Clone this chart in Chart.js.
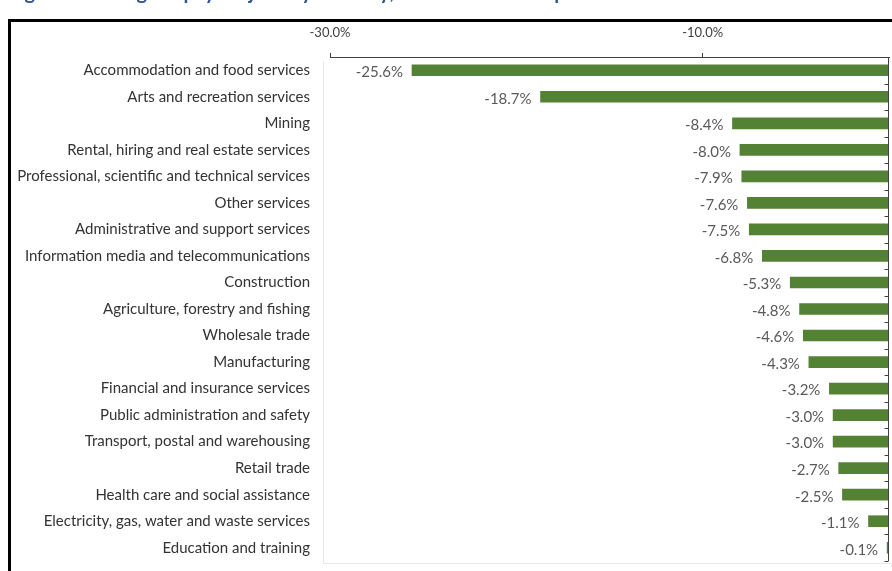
<!DOCTYPE html>
<html>
<head>
<meta charset="utf-8">
<script src="https://cdn.jsdelivr.net/npm/chart.js@4.4.1/dist/chart.umd.min.js"></script>
<style>
  html, body { margin: 0; padding: 0; background: #fff; }
  #wrap { width: 892px; height: 571px; position: relative; }
</style>
</head>
<body>
<div id="wrap"><canvas id="jobsChart" width="892" height="571"></canvas></div>
<script>
// Change in payroll jobs by industry (per cent)
var industries = [
  'Accommodation and food services',
  'Arts and recreation services',
  'Mining',
  'Rental, hiring and real estate services',
  'Professional, scientific and technical services',
  'Other services',
  'Administrative and support services',
  'Information media and telecommunications',
  'Construction',
  'Agriculture, forestry and fishing',
  'Wholesale trade',
  'Manufacturing',
  'Financial and insurance services',
  'Public administration and safety',
  'Transport, postal and warehousing',
  'Retail trade',
  'Health care and social assistance',
  'Electricity, gas, water and waste services',
  'Education and training'
];
var jobChange = [-25.6, -18.7, -8.4, -8.0, -7.9, -7.6, -7.5, -6.8, -5.3, -4.8, -4.6, -4.3, -3.2, -3.0, -3.0, -2.7, -2.5, -1.1, -0.1];
var axisTicks = [-30, -10];

var titleText = 'Figure 2: Change in payroll jobs by industry, 14 March to 18 April';
var fontFamily = 'Lato, "Open Sans", sans-serif';

function pct(v) { return v.toFixed(1) + '%'; }

// frame, clipped heading and faint plot border drawn behind the chart
var framePlugin = {
  id: 'frame',
  beforeDraw: function (chart) {
    var ctx = chart.ctx;
    var a = chart.chartArea;
    ctx.save();
    ctx.fillStyle = '#fff';
    ctx.fillRect(0, 0, chart.width, chart.height);
    // heading sits above the top edge, only descenders show
    ctx.fillStyle = '#2f5597';
    ctx.font = 'bold 20px ' + fontFamily;
    ctx.textBaseline = 'alphabetic';
    ctx.fillText(titleText, 8, -1);
    // outer black frame
    ctx.strokeStyle = '#000';
    ctx.lineWidth = 3;
    ctx.strokeRect(9.5, 20.5, chart.width + 20, chart.height + 20);
    // light plot-area border
    ctx.strokeStyle = '#e8e8e8';
    ctx.lineWidth = 1;
    ctx.beginPath();
    ctx.moveTo(a.left - 6.5, a.top + 4);
    ctx.lineTo(a.left - 6.5, a.bottom + 2.5);
    ctx.lineTo(chart.width, a.bottom + 2.5);
    ctx.stroke();
    ctx.restore();
  }
};

// zero line with category ticks, plus value labels beside the bar ends
var zeroPlugin = {
  id: 'zeroAxis',
  afterDatasetsDraw: function (chart) {
    var ctx = chart.ctx;
    var x = chart.scales.x;
    var y = chart.scales.y;
    var zx = Math.round(x.getPixelForValue(0)) - 0.5;
    ctx.save();
    ctx.strokeStyle = '#404040';
    ctx.lineWidth = 1;
    ctx.beginPath();
    ctx.moveTo(zx, y.top);
    ctx.lineTo(zx, y.bottom);
    var band = (y.bottom - y.top) / industries.length;
    for (var k = 1; k <= industries.length; k++) {
      var ty = Math.round(y.top + k * band) + 0.5;
      ctx.moveTo(zx, ty);
      ctx.lineTo(zx - 4, ty);
    }
    ctx.stroke();

    var meta = chart.getDatasetMeta(0);
    ctx.fillStyle = '#595959';
    ctx.font = '15px ' + fontFamily;
    ctx.textAlign = 'right';
    ctx.textBaseline = 'middle';
    meta.data.forEach(function (bar, i) {
      ctx.fillText(pct(jobChange[i]), bar.x - 9, bar.y + 2);
    });
    ctx.restore();
  }
};

new Chart(document.getElementById('jobsChart'), {
  type: 'bar',
  data: {
    labels: industries,
    datasets: [{
      data: jobChange,
      backgroundColor: '#548235',
      borderWidth: 0,
      barThickness: 11
    }]
  },
  options: {
    indexAxis: 'y',
    responsive: false,
    animation: false,
    layout: { padding: { top: 0, right: 3, bottom: 10, left: 0 } },
    plugins: {
      legend: { display: false },
      tooltip: { enabled: false }
    },
    scales: {
      x: {
        position: 'top',
        min: -30,
        max: 0,
        afterBuildTicks: function (scale) {
          scale.ticks = axisTicks.map(function (v) { return { value: v }; });
        },
        afterFit: function (scale) { scale.height = 57; },
        ticks: {
          color: '#404040',
          font: { family: fontFamily, size: 13 },
          padding: 12,
          callback: function (v) { return pct(v); }
        },
        grid: { drawOnChartArea: false, drawTicks: true, tickLength: 4, color: '#404040' },
        border: { display: true, color: '#404040', width: 1 }
      },
      y: {
        afterFit: function (scale) {
          scale.width = 330;
          // label padding should not shrink the plot vertically
          scale.paddingTop = 0;
          scale.paddingBottom = 0;
        },
        ticks: {
          color: '#333333',
          font: { family: fontFamily, size: 15 },
          padding: 20,
          autoSkip: false
        },
        grid: { display: false, drawTicks: false },
        border: { display: false }
      }
    }
  },
  plugins: [framePlugin, zeroPlugin]
});
</script>
</body>
</html>
